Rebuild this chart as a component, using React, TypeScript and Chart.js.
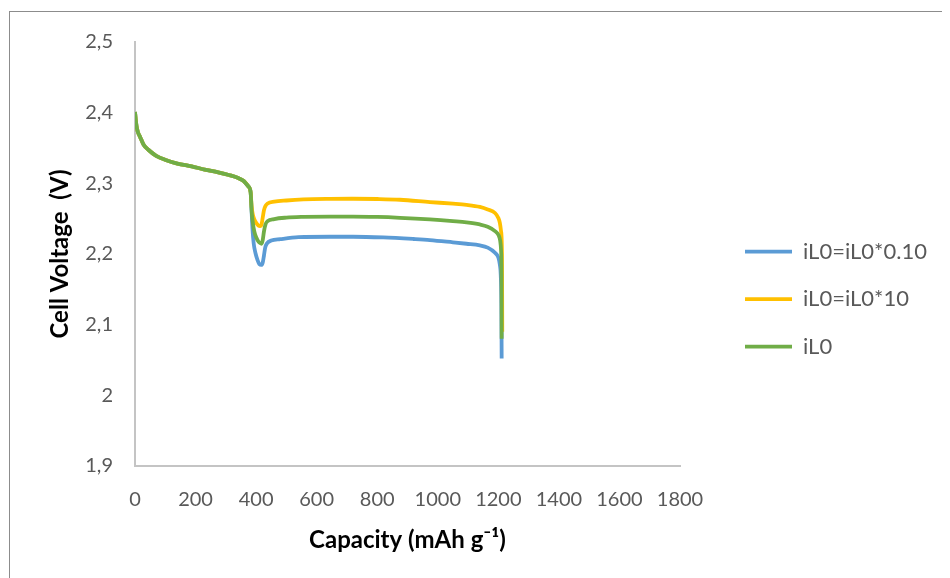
import { useEffect, useRef } from "react";
import { Chart, registerables } from "chart.js";

Chart.register(...registerables);

// Discharge curve: capacity (mAh g-1) vs cell voltage (V)
// Segment common to all three runs (upper plateau)
const sharedCapacity = [0, 2, 5, 10, 16.5, 28, 44, 70, 99, 140, 187, 230, 275, 310, 341, 360, 374, 382];
const sharedVoltage = [2.401, 2.392, 2.381, 2.372, 2.366, 2.355, 2.3475, 2.339, 2.3334, 2.328, 2.324, 2.3195, 2.3155, 2.3118, 2.3075, 2.303, 2.2958, 2.287];

// iL0 = iL0*0.10
const lowCapacity = [385, 388, 392, 398, 405, 411, 417, 422, 426, 430, 436, 450, 480, 540, 644, 720, 820, 920, 974, 1050, 1095, 1139, 1165, 1189, 1200, 1205, 1208, 1210, 1211];
const lowVoltage = [2.262, 2.236, 2.215, 2.201, 2.191, 2.1855, 2.1845, 2.188, 2.198, 2.209, 2.215, 2.219, 2.221, 2.2238, 2.2244, 2.2244, 2.2234, 2.2212, 2.2197, 2.2165, 2.2145, 2.2122, 2.209, 2.2018, 2.195, 2.185, 2.17, 2.13, 2.052];

// iL0 = iL0*10
const highCapacity = [385, 389, 395, 402, 408, 413, 418, 422, 426, 431, 438, 460, 500, 556, 644, 720, 800, 875, 974, 1050, 1095, 1139, 1165, 1189, 1200, 1205, 1209, 1212, 1213];
const highVoltage = [2.268, 2.256, 2.248, 2.243, 2.24, 2.2394, 2.242, 2.252, 2.262, 2.268, 2.2715, 2.274, 2.2757, 2.2772, 2.278, 2.2782, 2.2778, 2.2768, 2.2735, 2.2712, 2.2695, 2.2666, 2.263, 2.258, 2.251, 2.244, 2.232, 2.2, 2.09];

// iL0
const baseCapacity = [385, 389, 394, 401, 407, 413, 418, 422, 426, 431, 438, 460, 500, 556, 644, 720, 800, 875, 974, 1050, 1095, 1139, 1165, 1189, 1201, 1206, 1209, 1210.5, 1211];
const baseVoltage = [2.262, 2.245, 2.232, 2.223, 2.218, 2.2155, 2.2145, 2.22, 2.232, 2.242, 2.2465, 2.2495, 2.2515, 2.2525, 2.253, 2.253, 2.2524, 2.2512, 2.2489, 2.2465, 2.2448, 2.2418, 2.2385, 2.2324, 2.2265, 2.219, 2.205, 2.17, 2.08];

const seriesLabels = ["iL0=iL0*0.10", "iL0=iL0*10", "iL0"];
const seriesColors = ["#5B9BD5", "#FFC000", "#70AD47"];

const xTicks = { min: 0, max: 1800, step: 200 };
const yTicks = { min: 1.9, max: 2.5, step: 0.1 };

const FONT = "Lato, 'Open Sans', sans-serif";
const CANVAS_W = 942;
const CANVAS_H = 570;

// Legend geometry
const LEGEND_FONT = 22;
const LEGEND_PAD = 25.5;
const LEGEND_BOX = 47;
const LEGEND_LEFT = 711.5;

function toPoints(capacity: number[], voltage: number[]) {
  const xs = sharedCapacity.concat(capacity);
  const ys = sharedVoltage.concat(voltage);
  return xs.map((x, i) => ({ x, y: ys[i] }));
}

function formatVoltage(v: number) {
  const r = Math.round(v * 10) / 10;
  return String(r).replace(".", ",");
}

function legendWidth() {
  const ctx = document.createElement("canvas").getContext("2d");
  let textW = 130;
  if (ctx) {
    ctx.font = `${LEGEND_FONT}px ${FONT}`;
    textW = Math.max(...seriesLabels.map((t) => ctx.measureText(t).width));
  }
  return LEGEND_PAD + LEGEND_BOX + LEGEND_FONT / 2 + textW + 3;
}

export default function App() {
  const canvasRef = useRef<HTMLCanvasElement | null>(null);

  useEffect(() => {
    const canvas = canvasRef.current;
    if (!canvas) return;

    const tails = [
      [lowCapacity, lowVoltage],
      [highCapacity, highVoltage],
      [baseCapacity, baseVoltage],
    ];
    const drawOrder = [3, 2, 1];
    const lw = legendWidth();

    const chart = new Chart(canvas, {
      type: "scatter",
      data: {
        datasets: tails.map(([c, v], i) => ({
          label: seriesLabels[i],
          data: toPoints(c, v),
          showLine: true,
          borderColor: seriesColors[i],
          backgroundColor: seriesColors[i],
          borderWidth: 3.8,
          pointRadius: 0,
          pointHoverRadius: 0,
          cubicInterpolationMode: "monotone",
          order: drawOrder[i],
        })),
      },
      options: {
        animation: false,
        responsive: false,
        events: [],
        layout: {
          padding: { top: 32, bottom: 19.6, left: 0, right: CANVAS_W - LEGEND_LEFT - lw },
        },
        plugins: {
          legend: {
            position: "right",
            align: "center",
            maxWidth: lw,
            labels: {
              boxWidth: LEGEND_BOX,
              boxHeight: 0,
              padding: LEGEND_PAD,
              color: "#595959",
              font: { family: FONT, size: LEGEND_FONT },
              sort: (a: any, b: any) => a.datasetIndex - b.datasetIndex,
            },
          },
          tooltip: { enabled: false },
        },
        scales: {
          x: {
            type: "linear",
            min: xTicks.min,
            max: xTicks.max,
            ticks: {
              stepSize: xTicks.step,
              padding: 22,
              color: "#595959",
              font: { family: FONT, size: 20 },
              callback: (v: number | string) => String(v),
            },
            grid: { display: false, drawTicks: false, tickLength: 0 },
            border: { color: "#c4c4c4", width: 2 },
            title: {
              display: true,
              text: "Capacity (mAh g\u207B\u00B9)",
              color: "#000000",
              font: { family: FONT, size: 24, weight: "bold" },
              padding: { top: 0, bottom: 4 },
            },
            afterFit: (scale: any) => {
              scale.height = 92.4;
            },
          },
          y: {
            type: "linear",
            min: yTicks.min,
            max: yTicks.max,
            ticks: {
              stepSize: yTicks.step,
              padding: 22,
              color: "#595959",
              font: { family: FONT, size: 20 },
              callback: (v: number | string) => formatVoltage(Number(v)),
            },
            grid: { display: false, drawTicks: false, tickLength: 0 },
            border: { color: "#c4c4c4", width: 2 },
            title: {
              display: true,
              text: "Cell Voltage  (V)",
              color: "#000000",
              font: { family: FONT, size: 24, weight: "bold" },
              padding: { top: 37.6, bottom: 0 },
            },
            afterFit: (scale: any) => {
              scale.width = 127;
            },
          },
          gap: {
            type: "linear",
            position: "right",
            display: true,
            ticks: { display: false },
            grid: { display: false, drawTicks: false },
            border: { display: false },
            afterFit: (scale: any) => {
              scale.width = LEGEND_LEFT - 672;
            },
          },
        },
      },
    } as any);

    return () => chart.destroy();
  }, []);

  return (
    <div style={{ position: "relative", width: CANVAS_W, height: CANVAS_H, overflow: "hidden" }}>
      <div
        style={{
          position: "absolute",
          left: 1,
          top: 3,
          width: 938,
          height: 620,
          border: "1px solid #8c8c8c",
        }}
      />
      <canvas
        ref={canvasRef}
        width={CANVAS_W}
        height={CANVAS_H}
        style={{ position: "absolute", left: 0, top: 0 }}
      />
    </div>
  );
}
